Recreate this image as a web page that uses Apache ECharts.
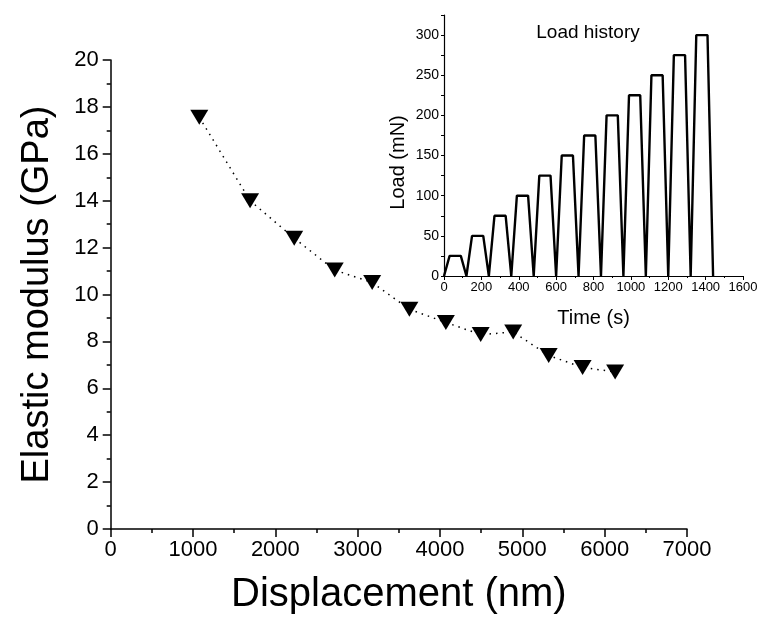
<!DOCTYPE html>
<html>
<head>
<meta charset="utf-8">
<script src="https://cdn.jsdelivr.net/npm/echarts@6/dist/echarts.min.js"></script>
<style>
html,body{margin:0;padding:0;background:#fff;}
#chart{width:763px;height:628px;}
</style>
</head>
<body>
<div id="chart"></div>
<script>
// Main chart data: displacement (nm) vs elastic modulus (GPa)
var displacement = [1076, 1693, 2229, 2721, 3176, 3628, 4071, 4494, 4889, 5320, 5732, 6127];
var modulus = [17.56, 14.0, 12.40, 11.04, 10.51, 9.37, 8.81, 8.29, 8.40, 7.40, 6.89, 6.70];

// Inset data: load history, time (s) vs load (mN)
var loadTime = [0, 30, 90, 120, 150, 210, 240, 270, 330, 360, 390, 450, 480, 510, 570, 600, 630, 690, 720, 750, 810, 840, 870, 930, 960, 990, 1050, 1080, 1110, 1170, 1200, 1230, 1290, 1320, 1350, 1410, 1440];
var loadValue = [0, 25, 25, 0, 50, 50, 0, 75, 75, 0, 100, 100, 0, 125, 125, 0, 150, 150, 0, 175, 175, 0, 200, 200, 0, 225, 225, 0, 250, 250, 0, 275, 275, 0, 300, 300, 0];

var mainData = displacement.map(function (d, i) { return [d, modulus[i]]; });
var insetData = loadTime.map(function (t, i) { return [t, loadValue[i]]; });

var FONT = 'Liberation Sans, Arial, sans-serif';
var axisLine = { show: true, onZero: false, lineStyle: { color: '#000', width: 1.5 } };
var plain = function (v) { return String(v); };

var chart = echarts.init(document.getElementById('chart'), null, { renderer: 'canvas' });
chart.setOption({
  backgroundColor: '#fff',
  animation: false,
  textStyle: { fontFamily: FONT, color: '#000' },
  title: {
    text: 'Load history',
    left: 583, top: 18, textAlign: 'center',
    textStyle: { fontFamily: FONT, fontSize: 19, fontWeight: 'normal', color: '#000' }
  },
  grid: [
    { left: 110.7, right: 76, top: 60, bottom: 99, containLabel: false },
    { left: 444, right: 20, top: 15, bottom: 352, containLabel: false }
  ],
  xAxis: [
    {
      gridIndex: 0, type: 'value', min: 0, max: 7000, interval: 1000,
      name: 'Displacement (nm)', nameLocation: 'middle', nameGap: 46,
      nameTextStyle: { fontFamily: FONT, fontSize: 40, color: '#000' },
      axisLine: axisLine,
      axisTick: { show: true, inside: false, length: 8, lineStyle: { color: '#000', width: 1.5 } },
      minorTick: { show: true, splitNumber: 2, length: 4, lineStyle: { color: '#000', width: 1.5 } },
      axisLabel: { fontFamily: FONT, fontSize: 22, color: '#000', margin: 10, formatter: plain },
      splitLine: { show: false }
    },
    {
      gridIndex: 1, type: 'value', min: 0, max: 1600, interval: 200,
      name: 'Time (s)', nameLocation: 'middle', nameGap: 32,
      nameTextStyle: { fontFamily: FONT, fontSize: 20, color: '#000' },
      axisLine: { show: true, onZero: false, lineStyle: { color: '#000', width: 1.2 } },
      axisTick: { show: true, inside: false, length: 4, lineStyle: { color: '#000', width: 1 } },
      minorTick: { show: true, splitNumber: 2, length: 2, lineStyle: { color: '#000', width: 1 } },
      axisLabel: { fontFamily: FONT, fontSize: 13, color: '#000', margin: 5, formatter: plain },
      splitLine: { show: false }
    }
  ],
  yAxis: [
    {
      gridIndex: 0, type: 'value', min: 0, max: 20, interval: 2,
      name: 'Elastic modulus (GPa)', nameLocation: 'middle', nameGap: 54,
      nameTextStyle: { fontFamily: FONT, fontSize: 38, color: '#000' },
      axisLine: axisLine,
      axisTick: { show: true, inside: false, length: 8, lineStyle: { color: '#000', width: 1.5 } },
      minorTick: { show: true, splitNumber: 2, length: 4, lineStyle: { color: '#000', width: 1.5 } },
      axisLabel: { fontFamily: FONT, fontSize: 22, color: '#000', margin: 12, formatter: plain },
      splitLine: { show: false }
    },
    {
      gridIndex: 1, type: 'value', min: 0, max: 325, interval: 25,
      name: 'Load (mN)', nameLocation: 'middle', nameGap: 36,
      nameTextStyle: { fontFamily: FONT, fontSize: 20, color: '#000', padding: [0, 34, 0, 0] },
      axisLine: { show: true, onZero: false, lineStyle: { color: '#000', width: 1.2 } },
      axisTick: { show: true, inside: false, length: 3, lineStyle: { color: '#000', width: 1 } },
      axisLabel: {
        fontFamily: FONT, fontSize: 14, color: '#000', margin: 5,
        formatter: function (v) { return (v % 50 === 0) ? String(v) : ''; }
      },
      splitLine: { show: false }
    }
  ],
  series: [
    {
      type: 'line', xAxisIndex: 0, yAxisIndex: 0, data: mainData,
      symbol: 'triangle', symbolRotate: 180, symbolSize: [18, 15],
      itemStyle: { color: '#000' },
      lineStyle: { color: '#000', width: 1.5, type: [1.5, 5] },
      z: 3
    },
    {
      type: 'line', xAxisIndex: 1, yAxisIndex: 1, data: insetData,
      symbol: 'none',
      lineStyle: { color: '#000', width: 2.4 },
      z: 3
    }
  ]
});
</script>
</body>
</html>
